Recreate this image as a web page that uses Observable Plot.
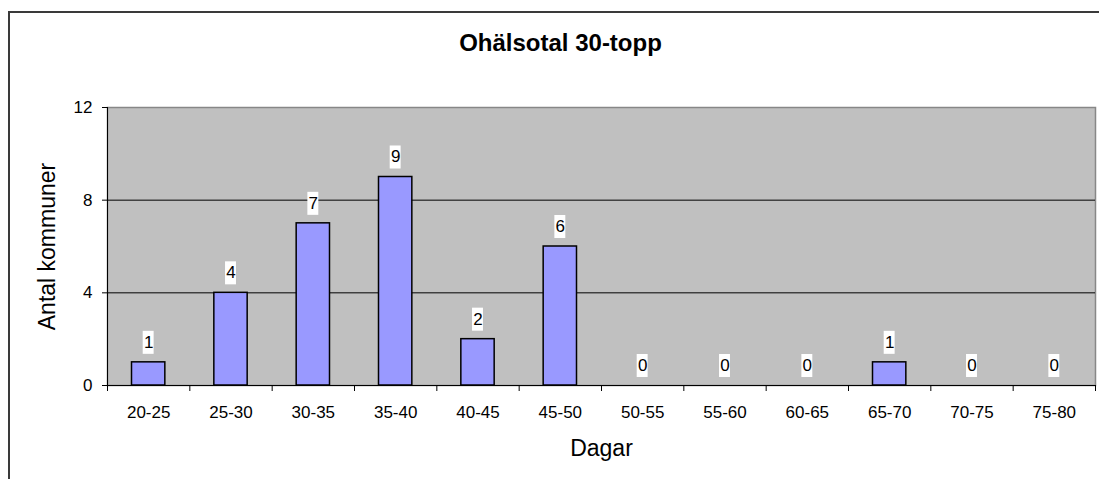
<!DOCTYPE html>
<html>
<head>
<meta charset="utf-8">
<script src="https://cdn.jsdelivr.net/npm/d3@7"></script>
<script src="https://cdn.jsdelivr.net/npm/@observablehq/plot@0.6"></script>
<style>
  html, body { margin: 0; padding: 0; background: #fff; overflow: hidden; }
  #wrap { position: relative; width: 1099px; height: 479px; }
  #border { position: absolute; left: 8px; top: 11px; width: 2000px; height: 2000px;
            border-left: 2px solid #3a3a3a; border-top: 2px solid #3a3a3a; pointer-events: none; }
  svg { display: block; }
</style>
</head>
<body>
<div id="wrap"><div id="chart"></div><div id="border"></div></div>
<script>
const title = "Ohälsotal 30-topp";
const yLabel = "Antal kommuner";
const xLabel = "Dagar";
const categories = ["20-25","25-30","30-35","35-40","40-45","45-50","50-55","55-60","60-65","65-70","70-75","75-80"];
const counts = [1, 4, 7, 9, 2, 6, 0, 0, 0, 1, 0, 0];
const yTicks = [0, 4, 8, 12];
const gridValues = [4, 8];

const data = categories.map((c, i) => {
  const [lo, hi] = c.split("-").map(Number);
  return {category: c, lo, hi, mid: (lo + hi) / 2, value: counts[i]};
});
const bounds = Array.from(new Set(data.flatMap(d => [d.lo, d.hi]))).sort((a, b) => a - b);
const labelOf = new Map(data.map(d => [d.mid, d.category]));
const font = "'Liberation Sans', Arial, sans-serif";

const chart = Plot.plot({
  width: 1099,
  height: 479,
  marginLeft: 107,
  marginRight: 4,
  marginTop: 107,
  marginBottom: 94,
  style: {fontFamily: font, fontSize: "17px", color: "#000", background: "transparent"},
  x: {type: "linear", domain: [bounds[0], bounds[bounds.length - 1]], label: null},
  y: {domain: [0, 12], label: null},
  marks: [
    Plot.frame({fill: "#c0c0c0", stroke: "#878787", strokeWidth: 1.5}),
    Plot.ruleY(gridValues, {stroke: "#000", strokeWidth: 1}),
    Plot.rect(data, {filter: d => d.value > 0, x1: "lo", x2: "hi", y1: 0, y2: "value",
      insetLeft: 24.5, insetRight: 24.5, fill: "#9999ff", stroke: "#000", strokeWidth: 1.5}),
    Plot.rect(data, {x1: "lo", x2: "hi", y1: "value", y2: "value",
      insetLeft: 35.7, insetRight: 35.7, insetTop: -31, insetBottom: 8, fill: "#fff"}),
    Plot.text(data, {x: "mid", y: "value", text: d => String(d.value), dy: -20,
      lineAnchor: "middle", textAnchor: "middle", fontSize: 17, fill: "#000"}),
    Plot.ruleY([0], {stroke: "#000", strokeWidth: 1}),
    Plot.ruleX([bounds[0]], {stroke: "#000", strokeWidth: 1}),
    Plot.axisY({ticks: yTicks, tickSize: 5, tickPadding: 10, tickFormat: d => String(d),
      fontSize: 17, label: null, stroke: "#000"}),
    Plot.axisX({ticks: bounds, tickSize: 6, tickFormat: () => "", label: null, stroke: "#000"}),
    Plot.axisX({ticks: data.map(d => d.mid), tickSize: 0, tickPadding: 20,
      tickFormat: d => labelOf.get(d), fontSize: 17, label: null}),
    Plot.text([title], {frameAnchor: "top", dx: -41, dy: -64, lineAnchor: "middle",
      textAnchor: "middle", fontWeight: "bold", fontSize: 24, fill: "#000"}),
    Plot.text([yLabel], {frameAnchor: "left", rotate: -90, dx: -60, lineAnchor: "middle",
      textAnchor: "middle", fontSize: 23, fill: "#000"}),
    Plot.text([xLabel], {frameAnchor: "bottom", dy: 63, lineAnchor: "middle",
      textAnchor: "middle", fontSize: 23, fill: "#000"})
  ]
});
document.getElementById("chart").appendChild(chart);
</script>
</body>
</html>
